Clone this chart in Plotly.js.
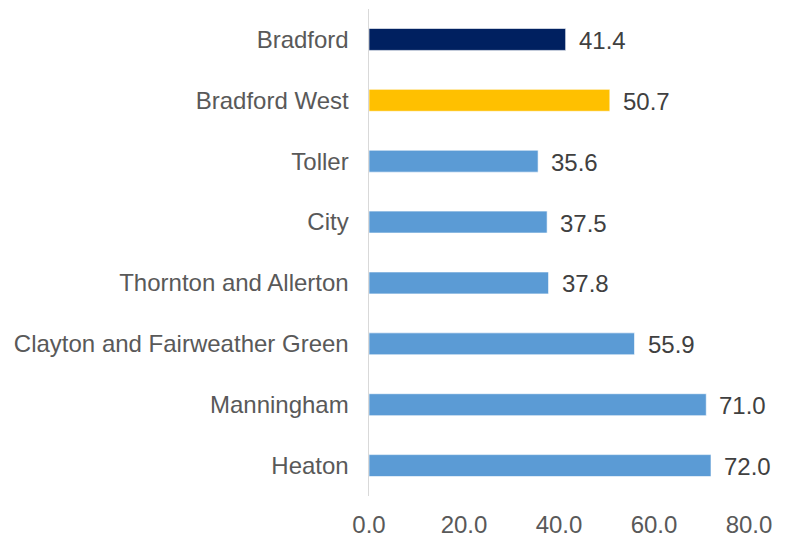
<!DOCTYPE html>
<html>
<head>
<meta charset="utf-8">
<script src="https://cdn.plot.ly/plotly-3.0.1.min.js"></script>
<style>html,body{margin:0;padding:0;background:#fff;}#chart{width:790px;height:537px;}</style>
</head>
<body>
<div id="chart"></div>
<script>
var categories = ["Bradford", "Bradford West", "Toller", "City", "Thornton and Allerton", "Clayton and Fairweather Green", "Manningham", "Heaton"];
var values = [41.4, 50.7, 35.6, 37.5, 37.8, 55.9, 71.0, 72.0];
var barColors = ["#002060", "#FFC000", "#5B9BD5", "#5B9BD5", "#5B9BD5", "#5B9BD5", "#5B9BD5", "#5B9BD5"];
var xTicks = [0, 20, 40, 60, 80];
var xTickLabels = ["0.0", "20.0", "40.0", "60.0", "80.0"];

var trace = {
  type: "bar",
  orientation: "h",
  y: categories,
  x: values,
  width: 0.36,
  marker: {color: barColors, line: {color: "rgba(255,255,255,0.6)", width: 1}},
  hoverinfo: "none"
};

var annotations = categories.map(function (c, i) {
  return {
    x: values[i], y: c, xref: "x", yref: "y",
    text: values[i].toFixed(1),
    showarrow: false, xanchor: "left", yanchor: "middle", xshift: 11, yshift: -1,
    font: {family: "Liberation Sans, Arial, sans-serif", size: 24, color: "#404040"}
  };
});

var layout = {
  width: 790, height: 537,
  margin: {l: 369, r: 41, t: 9, b: 41, pad: 0},
  paper_bgcolor: "#ffffff", plot_bgcolor: "#ffffff",
  showlegend: false,
  font: {family: "Liberation Sans, Arial, sans-serif", size: 24, color: "#595959"},
  xaxis: {
    range: [0, 80], tickvals: xTicks, ticktext: xTickLabels,
    showgrid: false, zeroline: false, showline: false, ticks: "",
    ticklabelstandoff: 12,
    tickfont: {size: 24, color: "#595959"}
  },
  yaxis: {
    autorange: "reversed", type: "category",
    showgrid: false, zeroline: false, showline: true, linecolor: "#D9D9D9", linewidth: 1.5,
    ticks: "", ticklabelstandoff: 14,
    tickfont: {size: 24, color: "#595959"}
  },
  annotations: annotations
};

Plotly.newPlot("chart", [trace], layout, {displayModeBar: false, staticPlot: true});
</script>
</body>
</html>
